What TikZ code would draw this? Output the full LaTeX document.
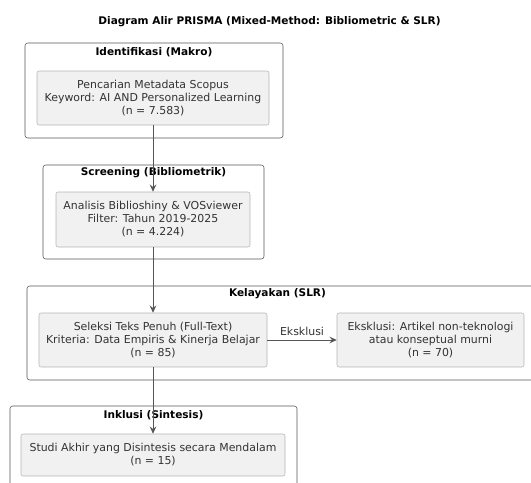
\documentclass[tikz,border=0pt]{standalone}
\usepackage{fontspec}
\setmainfont{DejaVu Sans}
\usepackage{xcolor}
\usetikzlibrary{arrows.meta,positioning}
\definecolor{boxfill}{HTML}{F1F1F1}
\definecolor{boxline}{HTML}{B5B5B5}
\definecolor{frameline}{HTML}{555555}
\definecolor{inktext}{HTML}{333333}

\begin{document}
\begin{tikzpicture}[
    x=0.75pt, y=-0.75pt,
    font=\fontsize{8.2}{9.75}\selectfont,
    text=inktext,
    frame/.style={
        draw=frameline,
        rounded corners=2pt,
        inner sep=0pt
    },
    frametitle/.style={
        font=\fontsize{7.9}{9}\selectfont\bfseries,
        text=black,
        inner sep=1pt
    },
    stepbox/.style={
        draw=boxline,
        fill=boxfill,
        rounded corners=1.5pt,
        align=center,
        inner sep=2pt,
        minimum height=40.5pt
    },
    arrow/.style={-{Stealth[length=5.5pt,width=5pt,inset=2pt]}, draw=frameline, semithick}
]
\useasboundingbox (0,0) rectangle (531,482);
\clip (0,0) rectangle (531,482);

\node[frametitle] (title) at (269.5,22) {Diagram Alir PRISMA (Mixed-Method: Bibliometric \& SLR)};

% frames
\node[frame, minimum width=193.5pt, minimum height=71.25pt] (idframe) at (154,90.5) {};
\node[frametitle] (idtitle) at (154,52) {Identifikasi (Makro)};
\node[frame, minimum width=165.75pt, minimum height=70.5pt] (scrframe) at (153.5,212) {};
\node[frametitle] (scrtitle) at (153.5,173) {Screening (Bibliometrik)};
\node[frame, minimum width=381pt, minimum height=70.5pt] (slrframe) at (281,333) {};
\node[frametitle] (slrtitle) at (277.5,294) {Kelayakan (SLR)};
\node[frame, minimum width=215.25pt, minimum height=71.25pt] (inkframe) at (153.5,453.5) {};
\node[frametitle] (inktitle) at (153.5,415) {Inklusi (Sintesis)};

% steps
\node[stepbox, minimum width=174pt] (search) at (153,98) {Pencarian Metadata Scopus\\Keyword: AI AND Personalized Learning\\(n = 7.583)};
\node[stepbox, minimum width=145.5pt, minimum height=41.25pt] (biblio) at (153,219.5) {Analisis Biblioshiny \& VOSviewer\\Filter: Tahun 2019-2025\\(n = 4.224)};
\node[stepbox, minimum width=171pt] (fulltext) at (153,340) {Seleksi Teks Penuh (Full-Text)\\Kriteria: Data Empiris \& Kinerja Belajar\\(n = 85)};
\node[stepbox, minimum width=140.25pt] (excluded) at (430.5,340) {Eksklusi: Artikel non-teknologi\\atau konseptual murni\\(n = 70)};
\node[stepbox, minimum width=198pt, minimum height=31.5pt] (final) at (153,455) {Studi Akhir yang Disintesis secara Mendalam\\(n = 15)};

\draw[arrow] (search) -- (biblio);
\draw[arrow] (biblio) -- (fulltext);
\draw[arrow] (fulltext) -- node[above, inner sep=3pt] {Eksklusi} (excluded);
\draw[arrow] (fulltext) -- (final);
\end{tikzpicture}
\end{document}
